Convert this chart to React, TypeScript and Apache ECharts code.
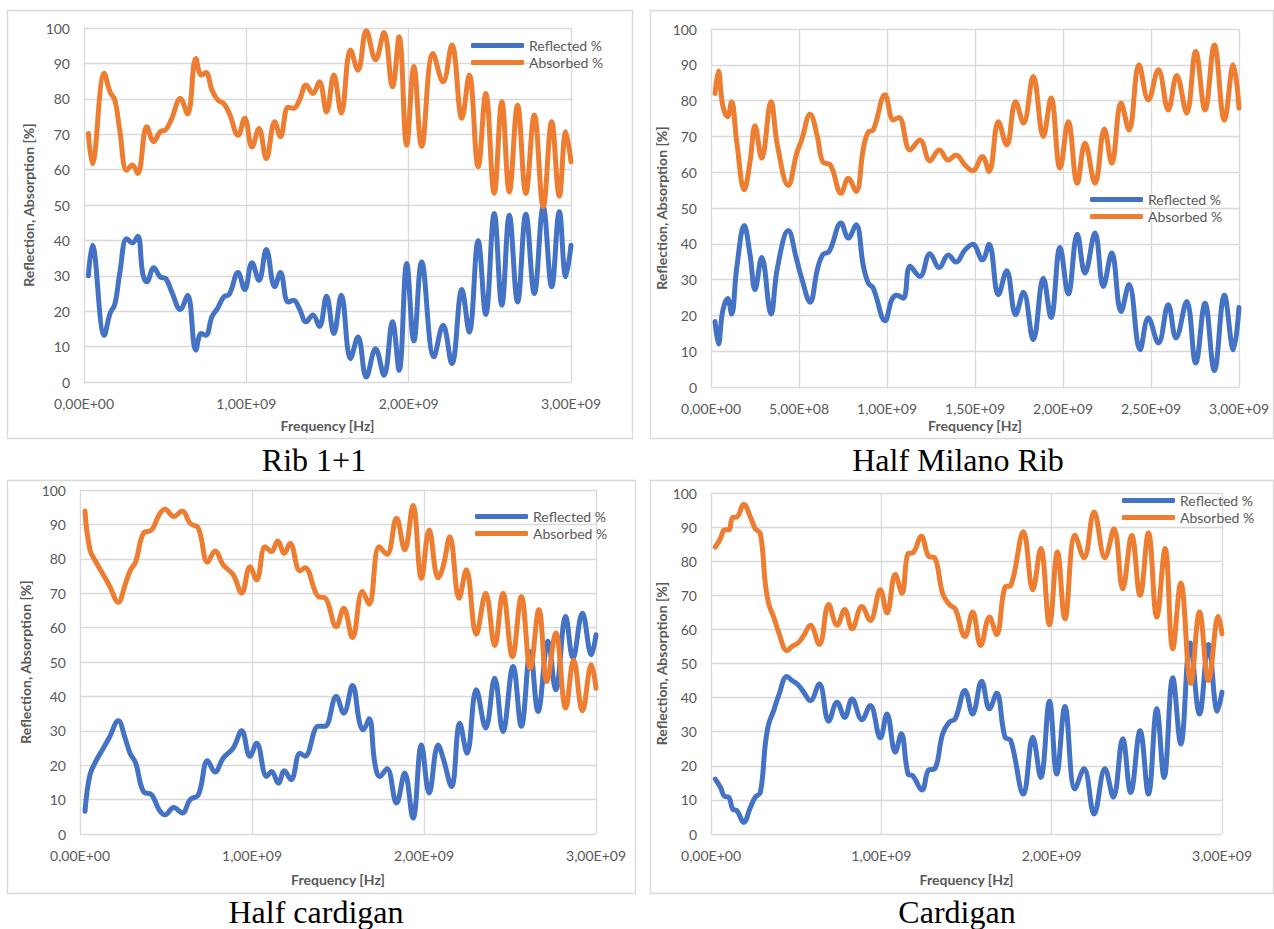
import React, { useEffect, useRef } from "react";
import * as echarts from "echarts";

// Frequency in GHz, value in %
const rib11Reflected: [number, number][] = [
  [0.027, 30], [0.051, 38.6], [0.125, 13.2], [0.16, 19.3], [0.19, 22], [0.22, 30.6], [0.263, 40.5], [0.298, 39.3],
  [0.331, 41.2], [0.362, 30.6], [0.387, 28.3], [0.43, 32.3], [0.469, 29.7], [0.504, 29.2], [0.541, 25.4], [0.593, 20.5],
  [0.638, 24.5], [0.689, 9], [0.722, 13.7], [0.751, 13.2], [0.788, 18.4], [0.825, 21], [0.86, 24], [0.895, 24.8],
  [0.949, 30.9], [0.99, 26.1], [1.035, 33.7], [1.078, 28.7], [1.123, 37.4], [1.175, 26.9], [1.21, 30.9], [1.257, 22.6],
  [1.292, 23.1], [1.327, 20.7], [1.368, 17], [1.41, 18.9], [1.45, 15.7], [1.494, 24.2], [1.539, 13.7], [1.585, 24.5],
  [1.642, 6.6], [1.688, 12.7], [1.739, 1.4], [1.796, 9.4], [1.848, 1.9], [1.9, 17], [1.941, 3.3], [1.988, 33.5],
  [2.032, 11.6], [2.08, 33.9], [2.156, 7.1], [2.212, 16], [2.266, 5.2], [2.328, 26.1], [2.373, 14.1], [2.428, 39.9],
  [2.475, 19.1], [2.527, 47.6], [2.574, 21.7], [2.62, 47.1], [2.671, 22.6], [2.722, 47.4], [2.774, 25], [2.829, 49.5],
  [2.881, 26.9], [2.928, 48.1], [2.968, 29.7], [3.0, 38.6],
];
const rib11Absorbed: [number, number][] = [
  [0.027, 70.2], [0.051, 61.7], [0.125, 87.2], [0.16, 82], [0.19, 79.6], [0.22, 71.2], [0.263, 59.8], [0.298, 61.3],
  [0.331, 58.9], [0.387, 72.1], [0.43, 67.9], [0.469, 70.7], [0.504, 71.3], [0.541, 74.5], [0.593, 80.1], [0.638, 75.7],
  [0.689, 91.4], [0.722, 86.7], [0.751, 87.4], [0.788, 82.5], [0.825, 79.6], [0.86, 78.7], [0.895, 75.9], [0.949, 69.7],
  [0.99, 74.5], [1.035, 66.4], [1.078, 71.6], [1.123, 63.1], [1.175, 73.5], [1.21, 69.3], [1.257, 77.6], [1.292, 77.3],
  [1.327, 79.6], [1.368, 83.9], [1.41, 81.5], [1.45, 84.8], [1.494, 76.3], [1.539, 86.7], [1.585, 76], [1.642, 93.8],
  [1.688, 88.1], [1.739, 99.2], [1.796, 91], [1.848, 98.7], [1.9, 83.4], [1.941, 97.5], [1.988, 66.9], [2.032, 89.1],
  [2.08, 66.6], [2.15, 92.8], [2.212, 84.8], [2.266, 95.2], [2.328, 74.5], [2.373, 86.7], [2.428, 60.8], [2.475, 81.5],
  [2.527, 53.3], [2.574, 79.2], [2.62, 53.7], [2.671, 78.2], [2.722, 53.3], [2.774, 75.4], [2.829, 49.5], [2.881, 73.5],
  [2.928, 52.5], [2.968, 70.7], [3.0, 62.2],
];

const milanoReflected: [number, number][] = [
  [0.023, 18.3], [0.042, 12], [0.066, 21.1], [0.095, 24.7], [0.117, 20.4], [0.146, 33.2], [0.189, 45.1], [0.222, 36.9],
  [0.25, 27.2], [0.288, 36.2], [0.341, 20.4], [0.377, 33.2], [0.439, 43.7], [0.487, 35.5], [0.515, 30.4], [0.563, 23.7],
  [0.604, 32.7], [0.634, 36.9], [0.672, 37.9], [0.739, 45.8], [0.78, 41.6], [0.824, 45.3], [0.866, 33.7], [0.894, 29],
  [0.922, 27.6], [0.989, 18.5], [1.027, 24.4], [1.055, 25.6], [1.093, 24.8], [1.131, 33.7], [1.187, 30.9], [1.244, 37.2],
  [1.297, 33.4], [1.348, 36.9], [1.392, 34.9], [1.443, 38.3], [1.487, 39.9], [1.542, 35.5], [1.58, 39.9], [1.633, 25.8],
  [1.68, 32.5], [1.731, 20.2], [1.775, 26.5], [1.831, 13.2], [1.888, 30.4], [1.932, 19.4], [1.983, 39], [2.03, 26],
  [2.081, 42.7], [2.125, 31.8], [2.182, 43], [2.229, 28.1], [2.277, 37.4], [2.33, 21.1], [2.375, 28.6], [2.438, 10.4],
  [2.485, 19.3], [2.542, 12.3], [2.598, 23], [2.642, 13.7], [2.703, 23.9], [2.754, 6.7], [2.807, 23.4], [2.86, 4.6],
  [2.917, 25.6], [2.968, 10.4], [3.0, 22.2],
];
const milanoAbsorbed: [number, number][] = [
  [0.023, 82], [0.042, 88.3], [0.066, 78.8], [0.095, 75.5], [0.117, 79.7], [0.146, 68.6], [0.189, 55.1], [0.222, 63],
  [0.25, 73], [0.288, 63.9], [0.341, 79.7], [0.377, 67.6], [0.439, 56.3], [0.487, 65.3], [0.515, 69], [0.563, 76.2],
  [0.604, 70], [0.634, 63], [0.68, 61.9], [0.739, 54.1], [0.78, 58.3], [0.824, 54.6], [0.866, 66.7], [0.894, 71.3],
  [0.922, 71.8], [0.989, 81.6], [1.036, 74.6], [1.068, 75.3], [1.131, 66.2], [1.187, 69], [1.244, 63.2], [1.297, 66.2],
  [1.348, 63.4], [1.392, 64.8], [1.443, 62], [1.487, 60.4], [1.542, 64.4], [1.58, 60.2], [1.633, 74.1], [1.68, 67.6],
  [1.731, 79.7], [1.775, 73.7], [1.831, 86.7], [1.888, 70], [1.932, 80.7], [1.983, 61.1], [2.03, 74.1], [2.081, 56.9],
  [2.125, 68.1], [2.182, 56.9], [2.235, 72.1], [2.277, 62.5], [2.33, 79.3], [2.375, 71.8], [2.432, 90], [2.485, 80.2],
  [2.542, 88.6], [2.598, 77.4], [2.646, 87], [2.703, 76.5], [2.754, 93.7], [2.807, 77.4], [2.86, 95.5], [2.917, 74.6],
  [2.968, 90], [3.0, 77.9],
];

const halfCardiganReflected: [number, number][] = [
  [0.029, 6.6], [0.058, 17.2], [0.097, 21.6], [0.136, 25], [0.169, 27.9], [0.223, 32.9], [0.262, 27.9], [0.291, 23.5],
  [0.324, 20.6], [0.368, 12.4], [0.417, 11.4], [0.459, 7.1], [0.494, 5.6], [0.545, 7.7], [0.595, 6.1], [0.64, 10],
  [0.688, 11.4], [0.742, 21.3], [0.785, 18], [0.833, 22.1], [0.891, 25], [0.94, 30], [0.988, 22.6], [1.027, 26.4],
  [1.085, 16.7], [1.114, 18.2], [1.153, 14.8], [1.188, 18.4], [1.227, 15.8], [1.279, 23.5], [1.308, 22.6], [1.386, 31.3],
  [1.424, 31.3], [1.49, 40], [1.533, 35.1], [1.584, 43.2], [1.626, 32.2], [1.646, 30.3], [1.681, 33.5], [1.714, 20.6],
  [1.743, 16.7], [1.785, 19], [1.84, 9], [1.888, 17.7], [1.936, 4.6], [1.985, 25.9], [2.03, 11.9], [2.082, 25.9],
  [2.111, 22.1], [2.16, 13.8], [2.208, 32.2], [2.25, 23.5], [2.304, 41.9], [2.359, 30.8], [2.411, 45.3], [2.459, 29.8],
  [2.518, 48.7], [2.566, 31.3], [2.618, 53], [2.663, 35.6], [2.721, 56], [2.766, 41.9], [2.824, 63.2], [2.866, 51.1],
  [2.921, 64.2], [2.973, 52.1], [3.0, 57.9],
];
const halfCardiganAbsorbed: [number, number][] = [
  [0.029, 93.9], [0.058, 82.6], [0.097, 78.7], [0.136, 75.3], [0.169, 72.4], [0.223, 67.4], [0.262, 72.4], [0.291, 76.5],
  [0.324, 79.2], [0.368, 87.4], [0.417, 88.4], [0.459, 92.7], [0.494, 94.5], [0.545, 92.3], [0.595, 93.9], [0.64, 90.3],
  [0.688, 88.9], [0.742, 79], [0.785, 82.3], [0.833, 78.2], [0.891, 75.3], [0.94, 70], [0.988, 77.7], [1.027, 73.9],
  [1.076, 83.5], [1.114, 82.1], [1.149, 85.2], [1.188, 81.6], [1.221, 84.5], [1.279, 76.5], [1.308, 77.4], [1.386, 69],
  [1.424, 68.7], [1.49, 60.3], [1.533, 65.6], [1.584, 57.1], [1.642, 70.5], [1.681, 66.8], [1.739, 83.5], [1.785, 81.3],
  [1.84, 91.8], [1.888, 82.6], [1.936, 95.5], [1.985, 74.3], [2.03, 88.4], [2.082, 74.5], [2.111, 77.7], [2.15, 86.4],
  [2.204, 68.5], [2.246, 76.8], [2.304, 58.1], [2.359, 70], [2.411, 54.8], [2.459, 70], [2.514, 51.6], [2.566, 69],
  [2.618, 48.2], [2.668, 65.2], [2.715, 44.3], [2.766, 58.4], [2.824, 36.6], [2.87, 50.6], [2.921, 35.8], [2.973, 49.2],
  [3.0, 42.4],
];

const cardiganReflected: [number, number][] = [
  [0.025, 16.1], [0.055, 13.7], [0.08, 11], [0.104, 10.8], [0.127, 7.3], [0.153, 6.8], [0.192, 3.4], [0.231, 7.8],
  [0.26, 10.8], [0.29, 12.2], [0.319, 26.4], [0.339, 32.3], [0.368, 36.2], [0.397, 40.6], [0.446, 46.2], [0.476, 45],
  [0.511, 43.8], [0.544, 41.6], [0.583, 39.1], [0.636, 44], [0.691, 33.1], [0.74, 38.6], [0.785, 34.2], [0.828, 39.6],
  [0.886, 33.5], [0.935, 37.7], [0.994, 28.2], [1.033, 35.2], [1.082, 24], [1.117, 29.4], [1.157, 17.6], [1.184, 17.1],
  [1.239, 12.9], [1.278, 18.8], [1.313, 19.1], [1.36, 29.4], [1.399, 32.8], [1.434, 33.8], [1.491, 42.1], [1.536, 35.2],
  [1.589, 44.8], [1.635, 36.7], [1.677, 41.3], [1.726, 28.4], [1.76, 27.4], [1.834, 11.7], [1.889, 28.4], [1.936, 16.6],
  [1.987, 38.9], [2.03, 17.6], [2.078, 37.4], [2.137, 13.2], [2.19, 19.1], [2.249, 5.9], [2.313, 19.1], [2.362, 10.8],
  [2.417, 27.9], [2.464, 12.2], [2.519, 30.3], [2.568, 11.7], [2.617, 36.7], [2.66, 16.6], [2.711, 45.8], [2.758, 26.4],
  [2.813, 56], [2.868, 35.2], [2.921, 55.6], [2.973, 36], [3.0, 41.6],
];
const cardiganAbsorbed: [number, number][] = [
  [0.025, 84.1], [0.055, 86.6], [0.08, 89.2], [0.104, 89.2], [0.127, 92.8], [0.153, 93], [0.192, 96.7], [0.231, 93],
  [0.26, 89.5], [0.29, 88.1], [0.319, 73.4], [0.339, 67.5], [0.368, 63.6], [0.397, 59.2], [0.446, 53.8], [0.476, 55],
  [0.511, 56], [0.544, 58.2], [0.583, 61.2], [0.636, 55.6], [0.691, 67.3], [0.74, 61.2], [0.785, 65.8], [0.828, 60.2],
  [0.886, 66.7], [0.935, 62.6], [0.994, 71.6], [1.033, 64.8], [1.082, 76.1], [1.121, 70.6], [1.157, 82.2], [1.184, 82.4],
  [1.235, 87.3], [1.278, 81.4], [1.313, 81], [1.36, 70.5], [1.399, 67.3], [1.434, 66], [1.491, 57.9], [1.536, 65.1],
  [1.583, 55.3], [1.635, 63.6], [1.677, 58.5], [1.726, 72.4], [1.76, 72.9], [1.834, 88.6], [1.889, 71.6], [1.936, 83.7],
  [1.987, 61.4], [2.034, 82.7], [2.078, 63.1], [2.137, 87.6], [2.19, 81], [2.249, 94.4], [2.313, 81], [2.366, 89.5],
  [2.417, 71.9], [2.47, 87.6], [2.519, 70], [2.568, 88.3], [2.617, 63.6], [2.666, 83.7], [2.711, 54.3], [2.758, 73.6],
  [2.817, 44.2], [2.868, 65.1], [2.921, 45], [2.979, 63.8], [3.0, 58.7],
];

const captions = ["Rib 1+1", "Half Milano Rib", "Half cardigan", "Cardigan"];
const seriesNames = ["Reflected %", "Absorbed %"];
const xTickIntervals = [1e9, 5e8, 1e9, 1e9];
const yTicks = { min: 0, max: 100, interval: 10 };
const xRange = { min: 0, max: 3e9 };
const xAxisTitle = "Frequency [Hz]";
const yAxisTitle = "Reflection, Absorption [%]";

const dataSets = [
  [rib11Reflected, rib11Absorbed],
  [milanoReflected, milanoAbsorbed],
  [halfCardiganReflected, halfCardiganAbsorbed],
  [cardiganReflected, cardiganAbsorbed],
];

// layout (pixels)
const layout = [
  { grid: { left: 84, top: 28, width: 487, height: 354 }, box: [7, 10, 632, 438], legend: [471, 37.5], xGap: 36, yGap: 49, cap: [314, 459.5] },
  { grid: { left: 711, top: 29, width: 528, height: 358 }, box: [650, 10, 1273, 438], legend: [1090, 191.5], xGap: 31, yGap: 38, cap: [958, 459.5] },
  { grid: { left: 80, top: 490, width: 516, height: 344 }, box: [7, 480, 635, 893], legend: [475, 508.5], xGap: 38, yGap: 48, cap: [316, 912] },
  { grid: { left: 711, top: 493, width: 511, height: 341 }, box: [650, 480, 1273, 893], legend: [1122, 492.5], xGap: 38, yGap: 38, cap: [957, 912] },
];

const COLORS = ["#4472C4", "#ED7D31"];
const TEXT = "#595959";
const GRIDLINE = "#D9D9D9";
const FONT = "Lato, 'Noto Sans', sans-serif";

function sciLabel(v: number): string {
  if (v === 0) return "0,00E+00";
  const e = Math.floor(Math.log10(v) + 1e-9);
  const m = v / Math.pow(10, e);
  return m.toFixed(2).replace(".", ",") + "E+" + String(e).padStart(2, "0");
}

export default function App() {
  const ref = useRef<HTMLDivElement>(null);
  useEffect(() => {
    if (!ref.current) return;
    const chart = echarts.init(ref.current, null, { renderer: "svg" });
    const grid: any[] = [];
    const xAxis: any[] = [];
    const yAxis: any[] = [];
    const series: any[] = [];
    const legend: any[] = [];
    const graphic: any[] = [];

    layout.forEach((L, i) => {
      const [bx0, by0, bx1, by1] = L.box;
      graphic.push({
        type: "rect",
        z: -10,
        silent: true,
        shape: { x: bx0 + 0.5, y: by0 + 0.5, width: bx1 - bx0, height: by1 - by0 },
        style: { fill: "#fff", stroke: GRIDLINE, lineWidth: 1.3 },
      });
      graphic.push({
        type: "text",
        x: L.cap[0],
        y: L.cap[1],
        silent: true,
        style: {
          text: captions[i],
          font: "32px 'Liberation Serif', 'Times New Roman', serif",
          fill: "#000",
          align: "center",
          verticalAlign: "middle",
        },
      });
      grid.push({ ...L.grid, containLabel: false });
      xAxis.push({
        type: "value",
        gridIndex: i,
        min: xRange.min,
        max: xRange.max,
        interval: xTickIntervals[i],
        name: xAxisTitle,
        nameLocation: "middle",
        nameGap: L.xGap,
        nameTextStyle: { color: TEXT, fontFamily: FONT, fontSize: 14, fontWeight: "bold" },
        axisLine: { show: false },
        axisTick: { show: false },
        axisLabel: { color: TEXT, fontFamily: FONT, fontSize: 14, margin: 14, formatter: sciLabel },
        splitLine: { show: true, lineStyle: { color: GRIDLINE, width: 1.3 } },
      });
      yAxis.push({
        type: "value",
        gridIndex: i,
        min: yTicks.min,
        max: yTicks.max,
        interval: yTicks.interval,
        name: yAxisTitle,
        nameLocation: "middle",
        nameGap: L.yGap,
        nameTextStyle: { color: TEXT, fontFamily: FONT, fontSize: 14, fontWeight: "bold" },
        axisLine: { show: false },
        axisTick: { show: false },
        axisLabel: { color: TEXT, fontFamily: FONT, fontSize: 14, margin: 14 },
        splitLine: { show: true, lineStyle: { color: GRIDLINE, width: 1.3 } },
      });
      dataSets[i].forEach((d, k) => {
        series.push({
          name: seriesNames[k],
          type: "line",
          xAxisIndex: i,
          yAxisIndex: i,
          data: d.map(([f, v]) => [f * 1e9, v]),
          smooth: 0.4,
          showSymbol: false,
          symbol: "none",
          lineStyle: { color: COLORS[k], width: 5, cap: "round", join: "round" },
          itemStyle: { color: COLORS[k] },
          z: 3 + k,
        });
      });
      legend.push({
        left: L.legend[0],
        top: L.legend[1],
        padding: 0,
        orient: "vertical",
        data: seriesNames,
        icon: "roundRect",
        itemWidth: 53,
        itemHeight: 5,
        itemGap: 1,
        selectedMode: false,
        textStyle: { color: TEXT, fontFamily: FONT, fontSize: 14, lineHeight: 16 },
      });
    });

    chart.setOption({
      animation: false,
      backgroundColor: "#fff",
      color: COLORS,
      grid,
      xAxis,
      yAxis,
      series,
      legend,
      graphic,
    });
    return () => chart.dispose();
  }, []);
  return (
    <div
      ref={ref}
      style={{ position: "fixed", left: 0, top: 0, width: 1274, height: 929, background: "#fff" }}
    />
  );
}
